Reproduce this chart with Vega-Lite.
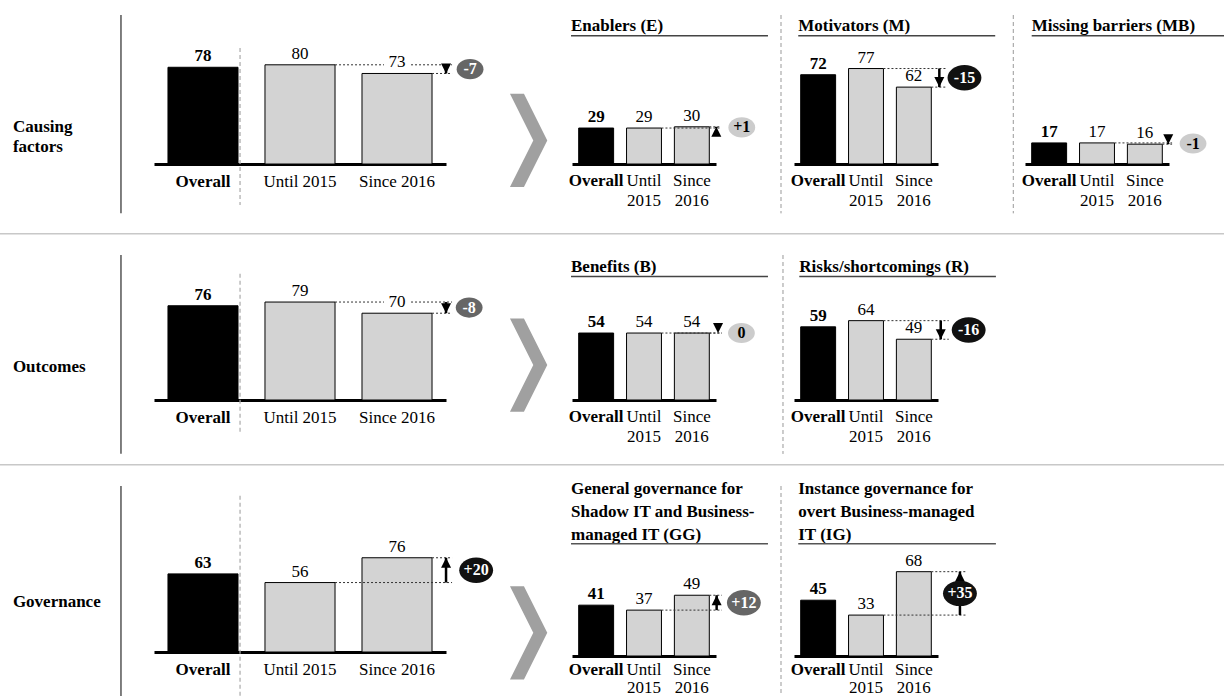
{
"$schema":"https://vega.github.io/schema/vega-lite/v6.json",
"padding":0,"background":"white","spacing":0,"bounds":"flush","align":"each","columns":8,
"config":{"font":"Liberation Serif","view":{"stroke":null},
"axisX":{"domainColor":"#000","domainWidth":3,"domainCap":"butt","ticks":false,"grid":false,"labelFont":"Liberation Serif","labelFontSize":17,"labelColor":"#000","labelAngle":0,"labelOverlap":false,"labelBaseline":"top"},
"text":{"fontSize":17,"color":"#000"}},
"datasets":{
"CF_bars":[{"period":"Overall","value":78},{"period":"Until 2015","value":80},{"period":"Since 2016","value":73}],
"CF_chg":[{"title":"Causing\nfactors","from":80,"to":73,"change":"-7","level":"medium"}],
"E_bars":[{"period":"Overall","value":29},{"period":"Until 2015","value":29},{"period":"Since 2016","value":30}],
"E_chg":[{"title":"Enablers (E)","from":29,"to":30,"change":"+1","level":"low"}],
"M_bars":[{"period":"Overall","value":72},{"period":"Until 2015","value":77},{"period":"Since 2016","value":62}],
"M_chg":[{"title":"Motivators (M)","from":77,"to":62,"change":"-15","level":"high"}],
"MB_bars":[{"period":"Overall","value":17},{"period":"Until 2015","value":17},{"period":"Since 2016","value":16}],
"MB_chg":[{"title":"Missing barriers (MB)","from":17,"to":16,"change":"-1","level":"low"}],
"OUT_bars":[{"period":"Overall","value":76},{"period":"Until 2015","value":79},{"period":"Since 2016","value":70}],
"OUT_chg":[{"title":"Outcomes","from":79,"to":70,"change":"-8","level":"medium"}],
"B_bars":[{"period":"Overall","value":54},{"period":"Until 2015","value":54},{"period":"Since 2016","value":54}],
"B_chg":[{"title":"Benefits (B)","from":54,"to":54,"change":"0","level":"low"}],
"R_bars":[{"period":"Overall","value":59},{"period":"Until 2015","value":64},{"period":"Since 2016","value":49}],
"R_chg":[{"title":"Risks/shortcomings (R)","from":64,"to":49,"change":"-16","level":"high"}],
"GOV_bars":[{"period":"Overall","value":63},{"period":"Until 2015","value":56},{"period":"Since 2016","value":76}],
"GOV_chg":[{"title":"Governance","from":56,"to":76,"change":"+20","level":"high"}],
"GG_bars":[{"period":"Overall","value":41},{"period":"Until 2015","value":37},{"period":"Since 2016","value":49}],
"GG_chg":[{"title":"General governance for\nShadow IT and Business-\nmanaged IT (GG)","from":37,"to":49,"change":"+12","level":"medium"}],
"IG_bars":[{"period":"Overall","value":45},{"period":"Until 2015","value":33},{"period":"Since 2016","value":68}],
"IG_chg":[{"title":"Instance governance for\novert Business-managed\nIT (IG)","from":33,"to":68,"change":"+35","level":"high"}]
},
"concat":[
{"width":1,"height":15,"mark":"point","data":{"values":[]}},
{"width":1,"height":1,"mark":"point","data":{"values":[]}},
{"width":1,"height":1,"mark":"point","data":{"values":[]}},
{"width":1,"height":1,"mark":"point","data":{"values":[]}},
{"width":1,"height":1,"mark":"point","data":{"values":[]}},
{"width":1,"height":1,"mark":"point","data":{"values":[]}},
{"width":1,"height":1,"mark":"point","data":{"values":[]}},
{"width":1,"height":1,"mark":"point","data":{"values":[]}},

{"width":1,"height":1,"mark":"point","data":{"values":[]}},
{"width":292,"height":149,"layer":[
{"data":{"name":"CF_bars"},"mark":{"type":"bar","stroke":"black","strokeWidth":1},"encoding":{"x":{"field":"period","type":"nominal","scale":{"type":"band","domain":["Overall","Until 2015","Since 2016"],"paddingInner":0.278,"paddingOuter":0.144},"axis":{"title":null,"labelPadding":9,"labelFontWeight":{"condition":{"test":"datum.value == 'Overall'","value":"bold"},"value":"normal"}}},"y":{"field":"value","type":"quantitative","scale":{"domain":[0,120.16],"nice":false},"axis":null},"fill":{"field":"period","type":"nominal","scale":{"domain":["Overall","Until 2015","Since 2016"],"range":["#000000","#d3d3d3","#d3d3d3"]},"legend":null}}},
{"data":{"name":"CF_bars"},"transform":[{"filter":"datum.period != 'Overall'"}],"mark":{"type":"rule","strokeDash":[2,2],"color":"#333","strokeWidth":1},"encoding":{"x":{"field":"period","type":"nominal","bandPosition":1},"x2":{"datum":"Since 2016","bandPosition":1.286},"y":{"field":"value","type":"quantitative","axis":null}}},
{"data":{"name":"CF_bars"},"transform":[{"filter":"datum.period == 'Since 2016'"}],"mark":{"type":"point","filled":true,"opacity":1,"color":"white","size":400,"shape":"M-1.3,-1.9L1.3,-1.9L1.3,-0.45L-1.3,-0.45Z"},"encoding":{"x":{"field":"period","type":"nominal"},"y":{"field":"value","type":"quantitative","axis":null}}},
{"data":{"name":"CF_bars"},"mark":{"type":"text","baseline":"alphabetic","dy":-6,"fontSize":17,"fontWeight":{"expr":"datum.period == 'Overall' ? 'bold' : 'normal'"}},"encoding":{"x":{"field":"period","type":"nominal"},"y":{"field":"value","type":"quantitative","axis":null},"text":{"field":"value","type":"quantitative"}}},
{"data":{"name":"CF_chg"},"encoding":{"x":{"datum":"Since 2016","bandPosition":1.2}},"layer":[
{"mark":{"type":"rule","color":"black","strokeWidth":2.5},"encoding":{"y":{"field":"from","type":"quantitative","axis":null},"y2":{"field":"to"}}},
{"mark":{"type":"point","filled":true,"color":"black","opacity":1,"size":100},"encoding":{"y":{"field":"to","type":"quantitative","axis":null},"shape":{"condition":{"test":"datum.to > datum.from","value":"M-1,2L1,2L0,0Z"},"value":"M-1,-2L1,-2L0,0Z"}}}]},
{"data":{"name":"CF_chg"},"transform":[{"calculate":"(datum.from + datum.to) / 2","as":"mid"}],"encoding":{"x":{"datum":"Since 2016","bandPosition":1.543},"y":{"field":"mid","type":"quantitative","axis":null}},"layer":[
{"mark":{"type":"point","filled":true,"opacity":1,"shape":"M-1,0C-1,-0.41,-0.55,-0.75,0,-0.75C0.55,-0.75,1,-0.41,1,0C1,0.41,0.55,0.75,0,0.75C-0.55,0.75,-1,0.41,-1,0Z"},"encoding":{"color":{"field":"level","type":"nominal","scale":{"domain":["high","medium","low"],"range":["#111111","#666666","#cccccc"]},"legend":null},"size":{"condition":{"test":"length(datum.change) > 2","value":1150},"value":720}}},
{"mark":{"type":"text","fontSize":16,"fontWeight":"bold","baseline":"middle"},"encoding":{"text":{"field":"change"},"color":{"condition":{"test":"datum.level == 'low'","value":"black"},"value":"white"}}}]},
{"data":{"name":"CF_chg"},"mark":{"type":"rule","color":"#aaaaaa","strokeDash":[4,3],"strokeWidth":1.2},"encoding":{"x":{"datum":"Overall","bandPosition":1.029},"y":{"datum":93.5,"axis":null},"y2":{"datum":-33}}},
{"data":{"name":"CF_chg"},"mark":{"type":"rule","color":"#555555","strokeWidth":1.5},"encoding":{"x":{"datum":"Overall","bandPosition":-0.671},"y":{"datum":120.16,"axis":null},"y2":{"datum":-39.8}}},
{"data":{"name":"CF_chg"},"mark":{"type":"text","align":"left","baseline":"middle","fontSize":17,"fontWeight":"bold","lineBreak":"\n","lineHeight":20},"encoding":{"x":{"datum":"Overall","bandPosition":-2.214},"y":{"datum":30.1,"axis":null},"text":{"field":"title"}}},
{"data":{"name":"CF_chg"},"mark":{"type":"point","filled":true,"opacity":1,"color":"#a0a0a0","size":8700,"shape":"M-0.4,-1L-0.1,-1L0.4,0L-0.1,1L-0.4,1L0.1,0Z"},"encoding":{"x":{"datum":"Since 2016","bandPosition":2.379},"y":{"datum":19,"axis":null}}}
]},
{"width":1,"height":1,"mark":"point","data":{"values":[]}},
{"width":144,"height":149,"layer":[
{"data":{"name":"E_bars"},"mark":{"type":"bar","stroke":"black","strokeWidth":1},"encoding":{"x":{"field":"period","type":"nominal","scale":{"type":"band","domain":["Overall","Until 2015","Since 2016"],"paddingInner":0.27,"paddingOuter":0.14},"axis":{"title":null,"labelPadding":8,"labelLineHeight":20,"labelExpr":"split(datum.label, ' ')","labelFontWeight":{"condition":{"test":"datum.value == 'Overall'","value":"bold"},"value":"normal"}}},"y":{"field":"value","type":"quantitative","scale":{"domain":[0,120.16],"nice":false},"axis":null},"fill":{"field":"period","type":"nominal","scale":{"domain":["Overall","Until 2015","Since 2016"],"range":["#000000","#d3d3d3","#d3d3d3"]},"legend":null}}},
{"data":{"name":"E_bars"},"mark":{"type":"text","baseline":"alphabetic","dy":-6,"fontSize":17,"fontWeight":{"expr":"datum.period == 'Overall' ? 'bold' : 'normal'"}},"encoding":{"x":{"field":"period","type":"nominal"},"y":{"field":"value","type":"quantitative","axis":null},"text":{"field":"value","type":"quantitative"}}},
{"data":{"name":"E_bars"},"transform":[{"filter":"datum.period != 'Overall'"}],"mark":{"type":"rule","strokeDash":[2,2],"color":"#333","strokeWidth":1},"encoding":{"x":{"field":"period","type":"nominal","bandPosition":1},"x2":{"datum":"Since 2016","bandPosition":1.31},"y":{"field":"value","type":"quantitative","axis":null}}},
{"data":{"name":"E_chg"},"encoding":{"x":{"datum":"Since 2016","bandPosition":1.2}},"layer":[
{"mark":{"type":"rule","color":"black","strokeWidth":2.5},"encoding":{"y":{"field":"from","type":"quantitative","axis":null},"y2":{"field":"to"}}},
{"mark":{"type":"point","filled":true,"color":"black","opacity":1,"size":100},"encoding":{"y":{"field":"to","type":"quantitative","axis":null},"shape":{"condition":{"test":"datum.to > datum.from","value":"M-1,2L1,2L0,0Z"},"value":"M-1,-2L1,-2L0,0Z"}}}]},
{"data":{"name":"E_chg"},"transform":[{"calculate":"(datum.from + datum.to) / 2","as":"mid"}],"encoding":{"x":{"datum":"Since 2016","bandPosition":1.93},"y":{"field":"mid","type":"quantitative","axis":null}},"layer":[
{"mark":{"type":"point","filled":true,"opacity":1,"shape":"M-1,0C-1,-0.41,-0.55,-0.75,0,-0.75C0.55,-0.75,1,-0.41,1,0C1,0.41,0.55,0.75,0,0.75C-0.55,0.75,-1,0.41,-1,0Z"},"encoding":{"color":{"field":"level","type":"nominal","scale":{"domain":["high","medium","low"],"range":["#111111","#666666","#cccccc"]},"legend":null},"size":{"condition":{"test":"length(datum.change) > 2","value":1150},"value":720}}},
{"mark":{"type":"text","fontSize":16,"fontWeight":"bold","baseline":"middle"},"encoding":{"text":{"field":"change"},"color":{"condition":{"test":"datum.level == 'low'","value":"black"},"value":"white"}}}]},
{"data":{"name":"E_chg"},"mark":{"type":"text","align":"left","baseline":"alphabetic","fontSize":17,"fontWeight":"bold","lineBreak":"\n","lineHeight":23.3},"encoding":{"x":{"datum":"Overall","bandPosition":-0.22},"y":{"datum":107.5,"axis":null},"text":{"field":"title"}}},
{"data":{"name":"E_chg"},"mark":{"type":"rule","color":"#444444","strokeWidth":1.5},"encoding":{"x":{"datum":"Overall","bandPosition":-0.22},"x2":{"datum":"Since 2016","bandPosition":2.68},"y":{"datum":103.5,"axis":null}}}
]},
{"width":1,"height":1,"mark":"point","data":{"values":[]}},
{"width":144,"height":149,"layer":[
{"data":{"name":"M_bars"},"mark":{"type":"bar","stroke":"black","strokeWidth":1},"encoding":{"x":{"field":"period","type":"nominal","scale":{"type":"band","domain":["Overall","Until 2015","Since 2016"],"paddingInner":0.27,"paddingOuter":0.14},"axis":{"title":null,"labelPadding":8,"labelLineHeight":20,"labelExpr":"split(datum.label, ' ')","labelFontWeight":{"condition":{"test":"datum.value == 'Overall'","value":"bold"},"value":"normal"}}},"y":{"field":"value","type":"quantitative","scale":{"domain":[0,120.16],"nice":false},"axis":null},"fill":{"field":"period","type":"nominal","scale":{"domain":["Overall","Until 2015","Since 2016"],"range":["#000000","#d3d3d3","#d3d3d3"]},"legend":null}}},
{"data":{"name":"M_bars"},"mark":{"type":"text","baseline":"alphabetic","dy":-6,"fontSize":17,"fontWeight":{"expr":"datum.period == 'Overall' ? 'bold' : 'normal'"}},"encoding":{"x":{"field":"period","type":"nominal"},"y":{"field":"value","type":"quantitative","axis":null},"text":{"field":"value","type":"quantitative"}}},
{"data":{"name":"M_bars"},"transform":[{"filter":"datum.period != 'Overall'"}],"mark":{"type":"rule","strokeDash":[2,2],"color":"#333","strokeWidth":1},"encoding":{"x":{"field":"period","type":"nominal","bandPosition":1},"x2":{"datum":"Since 2016","bandPosition":1.42},"y":{"field":"value","type":"quantitative","axis":null}}},
{"data":{"name":"M_chg"},"encoding":{"x":{"datum":"Since 2016","bandPosition":1.23}},"layer":[
{"mark":{"type":"rule","color":"black","strokeWidth":2.5},"encoding":{"y":{"field":"from","type":"quantitative","axis":null},"y2":{"field":"to"}}},
{"mark":{"type":"point","filled":true,"color":"black","opacity":1,"size":100},"encoding":{"y":{"field":"to","type":"quantitative","axis":null},"shape":{"condition":{"test":"datum.to > datum.from","value":"M-1,2L1,2L0,0Z"},"value":"M-1,-2L1,-2L0,0Z"}}}]},
{"data":{"name":"M_chg"},"transform":[{"calculate":"(datum.from + datum.to) / 2","as":"mid"}],"encoding":{"x":{"datum":"Since 2016","bandPosition":1.95},"y":{"field":"mid","type":"quantitative","axis":null}},"layer":[
{"mark":{"type":"point","filled":true,"opacity":1,"shape":"M-1,0C-1,-0.41,-0.55,-0.75,0,-0.75C0.55,-0.75,1,-0.41,1,0C1,0.41,0.55,0.75,0,0.75C-0.55,0.75,-1,0.41,-1,0Z"},"encoding":{"color":{"field":"level","type":"nominal","scale":{"domain":["high","medium","low"],"range":["#111111","#666666","#cccccc"]},"legend":null},"size":{"condition":{"test":"length(datum.change) > 2","value":1150},"value":720}}},
{"mark":{"type":"text","fontSize":16,"fontWeight":"bold","baseline":"middle"},"encoding":{"text":{"field":"change"},"color":{"condition":{"test":"datum.level == 'low'","value":"black"},"value":"white"}}}]},
{"data":{"name":"M_chg"},"mark":{"type":"text","align":"left","baseline":"alphabetic","fontSize":17,"fontWeight":"bold","lineBreak":"\n","lineHeight":23.3},"encoding":{"x":{"datum":"Overall","bandPosition":-0.07},"y":{"datum":107.5,"axis":null},"text":{"field":"title"}}},
{"data":{"name":"M_chg"},"mark":{"type":"rule","color":"#444444","strokeWidth":1.5},"encoding":{"x":{"datum":"Overall","bandPosition":-0.07},"x2":{"datum":"Since 2016","bandPosition":2.83},"y":{"datum":103.5,"axis":null}}},
{"data":{"name":"M_chg"},"mark":{"type":"rule","color":"#999999","strokeDash":[4,3],"strokeWidth":1},"encoding":{"x":{"datum":"Overall","bandPosition":-0.564},"y":{"datum":120.16,"axis":null},"y2":{"datum":-39.8}}}
]},
{"width":1,"height":1,"mark":"point","data":{"values":[]}},
{"width":144,"height":149,"layer":[
{"data":{"name":"MB_bars"},"mark":{"type":"bar","stroke":"black","strokeWidth":1},"encoding":{"x":{"field":"period","type":"nominal","scale":{"type":"band","domain":["Overall","Until 2015","Since 2016"],"paddingInner":0.27,"paddingOuter":0.14},"axis":{"title":null,"labelPadding":8,"labelLineHeight":20,"labelExpr":"split(datum.label, ' ')","labelFontWeight":{"condition":{"test":"datum.value == 'Overall'","value":"bold"},"value":"normal"}}},"y":{"field":"value","type":"quantitative","scale":{"domain":[0,120.16],"nice":false},"axis":null},"fill":{"field":"period","type":"nominal","scale":{"domain":["Overall","Until 2015","Since 2016"],"range":["#000000","#d3d3d3","#d3d3d3"]},"legend":null}}},
{"data":{"name":"MB_bars"},"mark":{"type":"text","baseline":"alphabetic","dy":-6,"fontSize":17,"fontWeight":{"expr":"datum.period == 'Overall' ? 'bold' : 'normal'"}},"encoding":{"x":{"field":"period","type":"nominal"},"y":{"field":"value","type":"quantitative","axis":null},"text":{"field":"value","type":"quantitative"}}},
{"data":{"name":"MB_bars"},"transform":[{"filter":"datum.period != 'Overall'"}],"mark":{"type":"rule","strokeDash":[2,2],"color":"#333","strokeWidth":1},"encoding":{"x":{"field":"period","type":"nominal","bandPosition":1},"x2":{"datum":"Since 2016","bandPosition":1.28},"y":{"field":"value","type":"quantitative","axis":null}}},
{"data":{"name":"MB_chg"},"encoding":{"x":{"datum":"Since 2016","bandPosition":1.17}},"layer":[
{"mark":{"type":"rule","color":"black","strokeWidth":2.5},"encoding":{"y":{"field":"from","type":"quantitative","axis":null},"y2":{"field":"to"}}},
{"mark":{"type":"point","filled":true,"color":"black","opacity":1,"size":100},"encoding":{"y":{"field":"to","type":"quantitative","axis":null},"shape":{"condition":{"test":"datum.to > datum.from","value":"M-1,2L1,2L0,0Z"},"value":"M-1,-2L1,-2L0,0Z"}}}]},
{"data":{"name":"MB_chg"},"transform":[{"calculate":"(datum.from + datum.to) / 2","as":"mid"}],"encoding":{"x":{"datum":"Since 2016","bandPosition":1.88},"y":{"field":"mid","type":"quantitative","axis":null}},"layer":[
{"mark":{"type":"point","filled":true,"opacity":1,"shape":"M-1,0C-1,-0.41,-0.55,-0.75,0,-0.75C0.55,-0.75,1,-0.41,1,0C1,0.41,0.55,0.75,0,0.75C-0.55,0.75,-1,0.41,-1,0Z"},"encoding":{"color":{"field":"level","type":"nominal","scale":{"domain":["high","medium","low"],"range":["#111111","#666666","#cccccc"]},"legend":null},"size":{"condition":{"test":"length(datum.change) > 2","value":1150},"value":720}}},
{"mark":{"type":"text","fontSize":16,"fontWeight":"bold","baseline":"middle"},"encoding":{"text":{"field":"change"},"color":{"condition":{"test":"datum.level == 'low'","value":"black"},"value":"white"}}}]},
{"data":{"name":"MB_chg"},"mark":{"type":"text","align":"left","baseline":"alphabetic","fontSize":17,"fontWeight":"bold","lineBreak":"\n","lineHeight":23.3},"encoding":{"x":{"datum":"Overall","bandPosition":0},"y":{"datum":107.5,"axis":null},"text":{"field":"title"}}},
{"data":{"name":"MB_chg"},"mark":{"type":"rule","color":"#444444","strokeWidth":1.5},"encoding":{"x":{"datum":"Overall","bandPosition":0},"x2":{"datum":"Since 2016","bandPosition":2.77},"y":{"datum":103.5,"axis":null}}},
{"data":{"name":"MB_chg"},"mark":{"type":"rule","color":"#999999","strokeDash":[4,3],"strokeWidth":1},"encoding":{"x":{"datum":"Overall","bandPosition":-0.527},"y":{"datum":120.16,"axis":null},"y2":{"datum":-39.8}}}
]},

{"width":1,"height":68.25,"mark":"point","data":{"values":[]}},
{"width":1,"height":1,"mark":"point","data":{"values":[]}},
{"width":1,"height":1,"mark":"point","data":{"values":[]}},
{"width":1,"height":1,"mark":"point","data":{"values":[]}},
{"width":1,"height":1,"mark":"point","data":{"values":[]}},
{"width":1,"height":1,"mark":"point","data":{"values":[]}},
{"width":1,"height":1,"mark":"point","data":{"values":[]}},
{"width":1,"height":1,"mark":"point","data":{"values":[]}},

{"width":154,"height":1.5,"mark":"point","data":{"values":[]},"view":{"fill":"#c8c8c8","stroke":null}},
{"width":292,"height":1.5,"mark":"point","data":{"values":[]},"view":{"fill":"#c8c8c8","stroke":null}},
{"width":126,"height":1.5,"mark":"point","data":{"values":[]},"view":{"fill":"#c8c8c8","stroke":null}},
{"width":144,"height":1.5,"mark":"point","data":{"values":[]},"view":{"fill":"#c8c8c8","stroke":null}},
{"width":78,"height":1.5,"mark":"point","data":{"values":[]},"view":{"fill":"#c8c8c8","stroke":null}},
{"width":144,"height":1.5,"mark":"point","data":{"values":[]},"view":{"fill":"#c8c8c8","stroke":null}},
{"width":87,"height":1.5,"mark":"point","data":{"values":[]},"view":{"fill":"#c8c8c8","stroke":null}},
{"width":199,"height":1.5,"mark":"point","data":{"values":[]},"view":{"fill":"#c8c8c8","stroke":null}},

{"width":1,"height":19.25,"mark":"point","data":{"values":[]}},
{"width":1,"height":1,"mark":"point","data":{"values":[]}},
{"width":1,"height":1,"mark":"point","data":{"values":[]}},
{"width":1,"height":1,"mark":"point","data":{"values":[]}},
{"width":1,"height":1,"mark":"point","data":{"values":[]}},
{"width":1,"height":1,"mark":"point","data":{"values":[]}},
{"width":1,"height":1,"mark":"point","data":{"values":[]}},
{"width":1,"height":1,"mark":"point","data":{"values":[]}},

{"width":1,"height":1,"mark":"point","data":{"values":[]}},
{"width":292,"height":145,"layer":[
{"data":{"name":"OUT_bars"},"mark":{"type":"bar","stroke":"black","strokeWidth":1},"encoding":{"x":{"field":"period","type":"nominal","scale":{"type":"band","domain":["Overall","Until 2015","Since 2016"],"paddingInner":0.278,"paddingOuter":0.144},"axis":{"title":null,"labelPadding":9,"labelFontWeight":{"condition":{"test":"datum.value == 'Overall'","value":"bold"},"value":"normal"}}},"y":{"field":"value","type":"quantitative","scale":{"domain":[0,116.94],"nice":false},"axis":null},"fill":{"field":"period","type":"nominal","scale":{"domain":["Overall","Until 2015","Since 2016"],"range":["#000000","#d3d3d3","#d3d3d3"]},"legend":null}}},
{"data":{"name":"OUT_bars"},"transform":[{"filter":"datum.period != 'Overall'"}],"mark":{"type":"rule","strokeDash":[2,2],"color":"#333","strokeWidth":1},"encoding":{"x":{"field":"period","type":"nominal","bandPosition":1},"x2":{"datum":"Since 2016","bandPosition":1.286},"y":{"field":"value","type":"quantitative","axis":null}}},
{"data":{"name":"OUT_bars"},"transform":[{"filter":"datum.period == 'Since 2016'"}],"mark":{"type":"point","filled":true,"opacity":1,"color":"white","size":400,"shape":"M-1.3,-1.9L1.3,-1.9L1.3,-0.45L-1.3,-0.45Z"},"encoding":{"x":{"field":"period","type":"nominal"},"y":{"field":"value","type":"quantitative","axis":null}}},
{"data":{"name":"OUT_bars"},"mark":{"type":"text","baseline":"alphabetic","dy":-6,"fontSize":17,"fontWeight":{"expr":"datum.period == 'Overall' ? 'bold' : 'normal'"}},"encoding":{"x":{"field":"period","type":"nominal"},"y":{"field":"value","type":"quantitative","axis":null},"text":{"field":"value","type":"quantitative"}}},
{"data":{"name":"OUT_chg"},"encoding":{"x":{"datum":"Since 2016","bandPosition":1.2}},"layer":[
{"mark":{"type":"rule","color":"black","strokeWidth":2.5},"encoding":{"y":{"field":"from","type":"quantitative","axis":null},"y2":{"field":"to"}}},
{"mark":{"type":"point","filled":true,"color":"black","opacity":1,"size":100},"encoding":{"y":{"field":"to","type":"quantitative","axis":null},"shape":{"condition":{"test":"datum.to > datum.from","value":"M-1,2L1,2L0,0Z"},"value":"M-1,-2L1,-2L0,0Z"}}}]},
{"data":{"name":"OUT_chg"},"transform":[{"calculate":"(datum.from + datum.to) / 2","as":"mid"}],"encoding":{"x":{"datum":"Since 2016","bandPosition":1.53},"y":{"field":"mid","type":"quantitative","axis":null}},"layer":[
{"mark":{"type":"point","filled":true,"opacity":1,"shape":"M-1,0C-1,-0.41,-0.55,-0.75,0,-0.75C0.55,-0.75,1,-0.41,1,0C1,0.41,0.55,0.75,0,0.75C-0.55,0.75,-1,0.41,-1,0Z"},"encoding":{"color":{"field":"level","type":"nominal","scale":{"domain":["high","medium","low"],"range":["#111111","#666666","#cccccc"]},"legend":null},"size":{"condition":{"test":"length(datum.change) > 2","value":1150},"value":720}}},
{"mark":{"type":"text","fontSize":16,"fontWeight":"bold","baseline":"middle"},"encoding":{"text":{"field":"change"},"color":{"condition":{"test":"datum.level == 'low'","value":"black"},"value":"white"}}}]},
{"data":{"name":"OUT_chg"},"mark":{"type":"rule","color":"#aaaaaa","strokeDash":[4,3],"strokeWidth":1.2},"encoding":{"x":{"datum":"Overall","bandPosition":1.029},"y":{"datum":101.9,"axis":null},"y2":{"datum":-25.8}}},
{"data":{"name":"OUT_chg"},"mark":{"type":"rule","color":"#555555","strokeWidth":1.5},"encoding":{"x":{"datum":"Overall","bandPosition":-0.671},"y":{"datum":116.94,"axis":null},"y2":{"datum":-43.3}}},
{"data":{"name":"OUT_chg"},"mark":{"type":"text","align":"left","baseline":"middle","fontSize":17,"fontWeight":"bold","lineBreak":"\n","lineHeight":20},"encoding":{"x":{"datum":"Overall","bandPosition":-2.214},"y":{"datum":26.6,"axis":null},"text":{"field":"title"}}},
{"data":{"name":"OUT_chg"},"mark":{"type":"point","filled":true,"opacity":1,"color":"#a0a0a0","size":8700,"shape":"M-0.4,-1L-0.1,-1L0.4,0L-0.1,1L-0.4,1L0.1,0Z"},"encoding":{"x":{"datum":"Since 2016","bandPosition":2.379},"y":{"datum":28.2,"axis":null}}}
]},
{"width":1,"height":1,"mark":"point","data":{"values":[]}},
{"width":144,"height":145,"layer":[
{"data":{"name":"B_bars"},"mark":{"type":"bar","stroke":"black","strokeWidth":1},"encoding":{"x":{"field":"period","type":"nominal","scale":{"type":"band","domain":["Overall","Until 2015","Since 2016"],"paddingInner":0.27,"paddingOuter":0.14},"axis":{"title":null,"labelPadding":8,"labelLineHeight":20,"labelExpr":"split(datum.label, ' ')","labelFontWeight":{"condition":{"test":"datum.value == 'Overall'","value":"bold"},"value":"normal"}}},"y":{"field":"value","type":"quantitative","scale":{"domain":[0,116.94],"nice":false},"axis":null},"fill":{"field":"period","type":"nominal","scale":{"domain":["Overall","Until 2015","Since 2016"],"range":["#000000","#d3d3d3","#d3d3d3"]},"legend":null}}},
{"data":{"name":"B_bars"},"mark":{"type":"text","baseline":"alphabetic","dy":-6,"fontSize":17,"fontWeight":{"expr":"datum.period == 'Overall' ? 'bold' : 'normal'"}},"encoding":{"x":{"field":"period","type":"nominal"},"y":{"field":"value","type":"quantitative","axis":null},"text":{"field":"value","type":"quantitative"}}},
{"data":{"name":"B_bars"},"transform":[{"filter":"datum.period != 'Overall'"}],"mark":{"type":"rule","strokeDash":[2,2],"color":"#333","strokeWidth":1},"encoding":{"x":{"field":"period","type":"nominal","bandPosition":1},"x2":{"datum":"Since 2016","bandPosition":1.36},"y":{"field":"value","type":"quantitative","axis":null}}},
{"data":{"name":"B_chg"},"encoding":{"x":{"datum":"Since 2016","bandPosition":1.25}},"layer":[
{"mark":{"type":"rule","color":"black","strokeWidth":2.5},"encoding":{"y":{"field":"from","type":"quantitative","axis":null},"y2":{"field":"to"}}},
{"mark":{"type":"point","filled":true,"color":"black","opacity":1,"size":100},"encoding":{"y":{"field":"to","type":"quantitative","axis":null},"shape":{"condition":{"test":"datum.to > datum.from","value":"M-1,2L1,2L0,0Z"},"value":"M-1,-2L1,-2L0,0Z"}}}]},
{"data":{"name":"B_chg"},"transform":[{"calculate":"(datum.from + datum.to) / 2","as":"mid"}],"encoding":{"x":{"datum":"Since 2016","bandPosition":1.92},"y":{"field":"mid","type":"quantitative","axis":null}},"layer":[
{"mark":{"type":"point","filled":true,"opacity":1,"shape":"M-1,0C-1,-0.41,-0.55,-0.75,0,-0.75C0.55,-0.75,1,-0.41,1,0C1,0.41,0.55,0.75,0,0.75C-0.55,0.75,-1,0.41,-1,0Z"},"encoding":{"color":{"field":"level","type":"nominal","scale":{"domain":["high","medium","low"],"range":["#111111","#666666","#cccccc"]},"legend":null},"size":{"condition":{"test":"length(datum.change) > 2","value":1150},"value":720}}},
{"mark":{"type":"text","fontSize":16,"fontWeight":"bold","baseline":"middle"},"encoding":{"text":{"field":"change"},"color":{"condition":{"test":"datum.level == 'low'","value":"black"},"value":"white"}}}]},
{"data":{"name":"B_chg"},"mark":{"type":"text","align":"left","baseline":"alphabetic","fontSize":17,"fontWeight":"bold","lineBreak":"\n","lineHeight":23.3},"encoding":{"x":{"datum":"Overall","bandPosition":-0.22},"y":{"datum":103.4,"axis":null},"text":{"field":"title"}}},
{"data":{"name":"B_chg"},"mark":{"type":"rule","color":"#444444","strokeWidth":1.5},"encoding":{"x":{"datum":"Overall","bandPosition":-0.22},"x2":{"datum":"Since 2016","bandPosition":2.68},"y":{"datum":99.5,"axis":null}}}
]},
{"width":1,"height":1,"mark":"point","data":{"values":[]}},
{"width":144,"height":145,"layer":[
{"data":{"name":"R_bars"},"mark":{"type":"bar","stroke":"black","strokeWidth":1},"encoding":{"x":{"field":"period","type":"nominal","scale":{"type":"band","domain":["Overall","Until 2015","Since 2016"],"paddingInner":0.27,"paddingOuter":0.14},"axis":{"title":null,"labelPadding":8,"labelLineHeight":20,"labelExpr":"split(datum.label, ' ')","labelFontWeight":{"condition":{"test":"datum.value == 'Overall'","value":"bold"},"value":"normal"}}},"y":{"field":"value","type":"quantitative","scale":{"domain":[0,116.94],"nice":false},"axis":null},"fill":{"field":"period","type":"nominal","scale":{"domain":["Overall","Until 2015","Since 2016"],"range":["#000000","#d3d3d3","#d3d3d3"]},"legend":null}}},
{"data":{"name":"R_bars"},"mark":{"type":"text","baseline":"alphabetic","dy":-6,"fontSize":17,"fontWeight":{"expr":"datum.period == 'Overall' ? 'bold' : 'normal'"}},"encoding":{"x":{"field":"period","type":"nominal"},"y":{"field":"value","type":"quantitative","axis":null},"text":{"field":"value","type":"quantitative"}}},
{"data":{"name":"R_bars"},"transform":[{"filter":"datum.period != 'Overall'"}],"mark":{"type":"rule","strokeDash":[2,2],"color":"#333","strokeWidth":1},"encoding":{"x":{"field":"period","type":"nominal","bandPosition":1},"x2":{"datum":"Since 2016","bandPosition":1.5},"y":{"field":"value","type":"quantitative","axis":null}}},
{"data":{"name":"R_chg"},"encoding":{"x":{"datum":"Since 2016","bandPosition":1.27}},"layer":[
{"mark":{"type":"rule","color":"black","strokeWidth":2.5},"encoding":{"y":{"field":"from","type":"quantitative","axis":null},"y2":{"field":"to"}}},
{"mark":{"type":"point","filled":true,"color":"black","opacity":1,"size":100},"encoding":{"y":{"field":"to","type":"quantitative","axis":null},"shape":{"condition":{"test":"datum.to > datum.from","value":"M-1,2L1,2L0,0Z"},"value":"M-1,-2L1,-2L0,0Z"}}}]},
{"data":{"name":"R_chg"},"transform":[{"calculate":"(datum.from + datum.to) / 2","as":"mid"}],"encoding":{"x":{"datum":"Since 2016","bandPosition":2.07},"y":{"field":"mid","type":"quantitative","axis":null}},"layer":[
{"mark":{"type":"point","filled":true,"opacity":1,"shape":"M-1,0C-1,-0.41,-0.55,-0.75,0,-0.75C0.55,-0.75,1,-0.41,1,0C1,0.41,0.55,0.75,0,0.75C-0.55,0.75,-1,0.41,-1,0Z"},"encoding":{"color":{"field":"level","type":"nominal","scale":{"domain":["high","medium","low"],"range":["#111111","#666666","#cccccc"]},"legend":null},"size":{"condition":{"test":"length(datum.change) > 2","value":1150},"value":720}}},
{"mark":{"type":"text","fontSize":16,"fontWeight":"bold","baseline":"middle"},"encoding":{"text":{"field":"change"},"color":{"condition":{"test":"datum.level == 'low'","value":"black"},"value":"white"}}}]},
{"data":{"name":"R_chg"},"mark":{"type":"text","align":"left","baseline":"alphabetic","fontSize":17,"fontWeight":"bold","lineBreak":"\n","lineHeight":23.3},"encoding":{"x":{"datum":"Overall","bandPosition":-0.04},"y":{"datum":103.4,"axis":null},"text":{"field":"title"}}},
{"data":{"name":"R_chg"},"mark":{"type":"rule","color":"#444444","strokeWidth":1.5},"encoding":{"x":{"datum":"Overall","bandPosition":-0.04},"x2":{"datum":"Since 2016","bandPosition":2.85},"y":{"datum":99.5,"axis":null}}},
{"data":{"name":"R_chg"},"mark":{"type":"rule","color":"#999999","strokeDash":[4,3],"strokeWidth":1},"encoding":{"x":{"datum":"Overall","bandPosition":-0.507},"y":{"datum":116.94,"axis":null},"y2":{"datum":-43.5}}}
]},
{"width":1,"height":1,"mark":"point","data":{"values":[]}},
{"width":1,"height":1,"mark":"point","data":{"values":[]}},

{"width":1,"height":63.25,"mark":"point","data":{"values":[]}},
{"width":1,"height":1,"mark":"point","data":{"values":[]}},
{"width":1,"height":1,"mark":"point","data":{"values":[]}},
{"width":1,"height":1,"mark":"point","data":{"values":[]}},
{"width":1,"height":1,"mark":"point","data":{"values":[]}},
{"width":1,"height":1,"mark":"point","data":{"values":[]}},
{"width":1,"height":1,"mark":"point","data":{"values":[]}},
{"width":1,"height":1,"mark":"point","data":{"values":[]}},

{"width":154,"height":1.5,"mark":"point","data":{"values":[]},"view":{"fill":"#c8c8c8","stroke":null}},
{"width":292,"height":1.5,"mark":"point","data":{"values":[]},"view":{"fill":"#c8c8c8","stroke":null}},
{"width":126,"height":1.5,"mark":"point","data":{"values":[]},"view":{"fill":"#c8c8c8","stroke":null}},
{"width":144,"height":1.5,"mark":"point","data":{"values":[]},"view":{"fill":"#c8c8c8","stroke":null}},
{"width":78,"height":1.5,"mark":"point","data":{"values":[]},"view":{"fill":"#c8c8c8","stroke":null}},
{"width":144,"height":1.5,"mark":"point","data":{"values":[]},"view":{"fill":"#c8c8c8","stroke":null}},
{"width":87,"height":1.5,"mark":"point","data":{"values":[]},"view":{"fill":"#c8c8c8","stroke":null}},
{"width":199,"height":1.5,"mark":"point","data":{"values":[]},"view":{"fill":"#c8c8c8","stroke":null}},

{"width":1,"height":19.25,"mark":"point","data":{"values":[]}},
{"width":1,"height":1,"mark":"point","data":{"values":[]}},
{"width":1,"height":1,"mark":"point","data":{"values":[]}},
{"width":1,"height":1,"mark":"point","data":{"values":[]}},
{"width":1,"height":1,"mark":"point","data":{"values":[]}},
{"width":1,"height":1,"mark":"point","data":{"values":[]}},
{"width":1,"height":1,"mark":"point","data":{"values":[]}},
{"width":1,"height":1,"mark":"point","data":{"values":[]}},

{"width":1,"height":1,"mark":"point","data":{"values":[]}},
{"width":292,"height":166,"layer":[
{"data":{"name":"GOV_bars"},"mark":{"type":"bar","stroke":"black","strokeWidth":1},"encoding":{"x":{"field":"period","type":"nominal","scale":{"type":"band","domain":["Overall","Until 2015","Since 2016"],"paddingInner":0.278,"paddingOuter":0.144},"axis":{"title":null,"labelPadding":9,"labelFontWeight":{"condition":{"test":"datum.value == 'Overall'","value":"bold"},"value":"normal"}}},"y":{"field":"value","type":"quantitative","scale":{"domain":[0,133.87],"nice":false},"axis":null},"fill":{"field":"period","type":"nominal","scale":{"domain":["Overall","Until 2015","Since 2016"],"range":["#000000","#d3d3d3","#d3d3d3"]},"legend":null}}},
{"data":{"name":"GOV_bars"},"mark":{"type":"text","baseline":"alphabetic","dy":-6,"fontSize":17,"fontWeight":{"expr":"datum.period == 'Overall' ? 'bold' : 'normal'"}},"encoding":{"x":{"field":"period","type":"nominal"},"y":{"field":"value","type":"quantitative","axis":null},"text":{"field":"value","type":"quantitative"}}},
{"data":{"name":"GOV_bars"},"transform":[{"filter":"datum.period != 'Overall'"}],"mark":{"type":"rule","strokeDash":[2,2],"color":"#333","strokeWidth":1},"encoding":{"x":{"field":"period","type":"nominal","bandPosition":1},"x2":{"datum":"Since 2016","bandPosition":1.286},"y":{"field":"value","type":"quantitative","axis":null}}},
{"data":{"name":"GOV_chg"},"encoding":{"x":{"datum":"Since 2016","bandPosition":1.2}},"layer":[
{"mark":{"type":"rule","color":"black","strokeWidth":2.5},"encoding":{"y":{"field":"from","type":"quantitative","axis":null},"y2":{"field":"to"}}},
{"mark":{"type":"point","filled":true,"color":"black","opacity":1,"size":100},"encoding":{"y":{"field":"to","type":"quantitative","axis":null},"shape":{"condition":{"test":"datum.to > datum.from","value":"M-1,2L1,2L0,0Z"},"value":"M-1,-2L1,-2L0,0Z"}}}]},
{"data":{"name":"GOV_chg"},"transform":[{"calculate":"(datum.from + datum.to) / 2","as":"mid"}],"encoding":{"x":{"datum":"Since 2016","bandPosition":1.63},"y":{"field":"mid","type":"quantitative","axis":null}},"layer":[
{"mark":{"type":"point","filled":true,"opacity":1,"shape":"M-1,0C-1,-0.41,-0.55,-0.75,0,-0.75C0.55,-0.75,1,-0.41,1,0C1,0.41,0.55,0.75,0,0.75C-0.55,0.75,-1,0.41,-1,0Z"},"encoding":{"color":{"field":"level","type":"nominal","scale":{"domain":["high","medium","low"],"range":["#111111","#666666","#cccccc"]},"legend":null},"size":{"condition":{"test":"length(datum.change) > 2","value":1150},"value":720}}},
{"mark":{"type":"text","fontSize":16,"fontWeight":"bold","baseline":"middle"},"encoding":{"text":{"field":"change"},"color":{"condition":{"test":"datum.level == 'low'","value":"black"},"value":"white"}}}]},
{"data":{"name":"GOV_chg"},"mark":{"type":"rule","color":"#aaaaaa","strokeDash":[4,3],"strokeWidth":1.2},"encoding":{"x":{"datum":"Overall","bandPosition":1.029},"y":{"datum":126,"axis":null},"y2":{"datum":-40}}},
{"data":{"name":"GOV_chg"},"mark":{"type":"rule","color":"#555555","strokeWidth":1.5},"encoding":{"x":{"datum":"Overall","bandPosition":-0.671},"y":{"datum":133.87,"axis":null},"y2":{"datum":-42}}},
{"data":{"name":"GOV_chg"},"mark":{"type":"text","align":"left","baseline":"middle","fontSize":17,"fontWeight":"bold","lineBreak":"\n","lineHeight":20},"encoding":{"x":{"datum":"Overall","bandPosition":-2.214},"y":{"datum":40.1,"axis":null},"text":{"field":"title"}}},
{"data":{"name":"GOV_chg"},"mark":{"type":"point","filled":true,"opacity":1,"color":"#a0a0a0","size":8700,"shape":"M-0.4,-1L-0.1,-1L0.4,0L-0.1,1L-0.4,1L0.1,0Z"},"encoding":{"x":{"datum":"Since 2016","bandPosition":2.379},"y":{"datum":15.5,"axis":null}}}
]},
{"width":1,"height":1,"mark":"point","data":{"values":[]}},
{"width":144,"height":170,"layer":[
{"data":{"name":"GG_bars"},"mark":{"type":"bar","stroke":"black","strokeWidth":1},"encoding":{"x":{"field":"period","type":"nominal","scale":{"type":"band","domain":["Overall","Until 2015","Since 2016"],"paddingInner":0.27,"paddingOuter":0.14},"axis":{"title":null,"labelPadding":5,"labelLineHeight":18,"labelExpr":"split(datum.label, ' ')","labelFontWeight":{"condition":{"test":"datum.value == 'Overall'","value":"bold"},"value":"normal"}}},"y":{"field":"value","type":"quantitative","scale":{"domain":[0,137.1],"nice":false},"axis":null},"fill":{"field":"period","type":"nominal","scale":{"domain":["Overall","Until 2015","Since 2016"],"range":["#000000","#d3d3d3","#d3d3d3"]},"legend":null}}},
{"data":{"name":"GG_bars"},"mark":{"type":"text","baseline":"alphabetic","dy":-6,"fontSize":17,"fontWeight":{"expr":"datum.period == 'Overall' ? 'bold' : 'normal'"}},"encoding":{"x":{"field":"period","type":"nominal"},"y":{"field":"value","type":"quantitative","axis":null},"text":{"field":"value","type":"quantitative"}}},
{"data":{"name":"GG_bars"},"transform":[{"filter":"datum.period != 'Overall'"}],"mark":{"type":"rule","strokeDash":[2,2],"color":"#333","strokeWidth":1},"encoding":{"x":{"field":"period","type":"nominal","bandPosition":1},"x2":{"datum":"Since 2016","bandPosition":1.36},"y":{"field":"value","type":"quantitative","axis":null}}},
{"data":{"name":"GG_chg"},"encoding":{"x":{"datum":"Since 2016","bandPosition":1.21}},"layer":[
{"mark":{"type":"rule","color":"black","strokeWidth":2.5},"encoding":{"y":{"field":"from","type":"quantitative","axis":null},"y2":{"field":"to"}}},
{"mark":{"type":"point","filled":true,"color":"black","opacity":1,"size":100},"encoding":{"y":{"field":"to","type":"quantitative","axis":null},"shape":{"condition":{"test":"datum.to > datum.from","value":"M-1,2L1,2L0,0Z"},"value":"M-1,-2L1,-2L0,0Z"}}}]},
{"data":{"name":"GG_chg"},"transform":[{"calculate":"(datum.from + datum.to) / 2","as":"mid"}],"encoding":{"x":{"datum":"Since 2016","bandPosition":1.99},"y":{"field":"mid","type":"quantitative","axis":null}},"layer":[
{"mark":{"type":"point","filled":true,"opacity":1,"shape":"M-1,0C-1,-0.41,-0.55,-0.75,0,-0.75C0.55,-0.75,1,-0.41,1,0C1,0.41,0.55,0.75,0,0.75C-0.55,0.75,-1,0.41,-1,0Z"},"encoding":{"color":{"field":"level","type":"nominal","scale":{"domain":["high","medium","low"],"range":["#111111","#666666","#cccccc"]},"legend":null},"size":{"condition":{"test":"length(datum.change) > 2","value":1150},"value":720}}},
{"mark":{"type":"text","fontSize":16,"fontWeight":"bold","baseline":"middle"},"encoding":{"text":{"field":"change"},"color":{"condition":{"test":"datum.level == 'low'","value":"black"},"value":"white"}}}]},
{"data":{"name":"GG_chg"},"mark":{"type":"text","align":"left","baseline":"alphabetic","fontSize":17,"fontWeight":"bold","lineBreak":"\n","lineHeight":23.3},"encoding":{"x":{"datum":"Overall","bandPosition":-0.22},"y":{"datum":130.9,"axis":null},"text":{"field":"title"}}},
{"data":{"name":"GG_chg"},"mark":{"type":"rule","color":"#555555","strokeWidth":1.5},"encoding":{"x":{"datum":"Overall","bandPosition":-0.22},"x2":{"datum":"Since 2016","bandPosition":2.68},"y":{"datum":90.6,"axis":null}}}
]},
{"width":1,"height":1,"mark":"point","data":{"values":[]}},
{"width":144,"height":170,"layer":[
{"data":{"name":"IG_bars"},"mark":{"type":"bar","stroke":"black","strokeWidth":1},"encoding":{"x":{"field":"period","type":"nominal","scale":{"type":"band","domain":["Overall","Until 2015","Since 2016"],"paddingInner":0.27,"paddingOuter":0.14},"axis":{"title":null,"labelPadding":5,"labelLineHeight":18,"labelExpr":"split(datum.label, ' ')","labelFontWeight":{"condition":{"test":"datum.value == 'Overall'","value":"bold"},"value":"normal"}}},"y":{"field":"value","type":"quantitative","scale":{"domain":[0,137.1],"nice":false},"axis":null},"fill":{"field":"period","type":"nominal","scale":{"domain":["Overall","Until 2015","Since 2016"],"range":["#000000","#d3d3d3","#d3d3d3"]},"legend":null}}},
{"data":{"name":"IG_bars"},"mark":{"type":"text","baseline":"alphabetic","dy":-6,"fontSize":17,"fontWeight":{"expr":"datum.period == 'Overall' ? 'bold' : 'normal'"}},"encoding":{"x":{"field":"period","type":"nominal"},"y":{"field":"value","type":"quantitative","axis":null},"text":{"field":"value","type":"quantitative"}}},
{"data":{"name":"IG_bars"},"transform":[{"filter":"datum.period != 'Overall'"}],"mark":{"type":"rule","strokeDash":[2,2],"color":"#333","strokeWidth":1},"encoding":{"x":{"field":"period","type":"nominal","bandPosition":1},"x2":{"datum":"Since 2016","bandPosition":1.99},"y":{"field":"value","type":"quantitative","axis":null}}},
{"data":{"name":"IG_chg"},"encoding":{"x":{"datum":"Since 2016","bandPosition":1.82}},"layer":[
{"mark":{"type":"rule","color":"black","strokeWidth":2.5},"encoding":{"y":{"field":"from","type":"quantitative","axis":null},"y2":{"field":"to"}}},
{"mark":{"type":"point","filled":true,"color":"black","opacity":1,"size":100},"encoding":{"y":{"field":"to","type":"quantitative","axis":null},"shape":{"condition":{"test":"datum.to > datum.from","value":"M-1,2L1,2L0,0Z"},"value":"M-1,-2L1,-2L0,0Z"}}}]},
{"data":{"name":"IG_chg"},"transform":[{"calculate":"(datum.from + datum.to) / 2","as":"mid"}],"encoding":{"x":{"datum":"Since 2016","bandPosition":1.82},"y":{"field":"mid","type":"quantitative","axis":null}},"layer":[
{"mark":{"type":"point","filled":true,"opacity":1,"shape":"M-1,0C-1,-0.41,-0.55,-0.75,0,-0.75C0.55,-0.75,1,-0.41,1,0C1,0.41,0.55,0.75,0,0.75C-0.55,0.75,-1,0.41,-1,0Z"},"encoding":{"color":{"field":"level","type":"nominal","scale":{"domain":["high","medium","low"],"range":["#111111","#666666","#cccccc"]},"legend":null},"size":{"condition":{"test":"length(datum.change) > 2","value":1150},"value":720}}},
{"mark":{"type":"text","fontSize":16,"fontWeight":"bold","baseline":"middle"},"encoding":{"text":{"field":"change"},"color":{"condition":{"test":"datum.level == 'low'","value":"black"},"value":"white"}}}]},
{"data":{"name":"IG_chg"},"mark":{"type":"text","align":"left","baseline":"alphabetic","fontSize":17,"fontWeight":"bold","lineBreak":"\n","lineHeight":23.3},"encoding":{"x":{"datum":"Overall","bandPosition":-0.07},"y":{"datum":130.9,"axis":null},"text":{"field":"title"}}},
{"data":{"name":"IG_chg"},"mark":{"type":"rule","color":"#555555","strokeWidth":1.5},"encoding":{"x":{"datum":"Overall","bandPosition":-0.07},"x2":{"datum":"Since 2016","bandPosition":2.85},"y":{"datum":90.6,"axis":null}}},
{"data":{"name":"IG_chg"},"mark":{"type":"rule","color":"#999999","strokeDash":[4,3],"strokeWidth":1},"encoding":{"x":{"datum":"Overall","bandPosition":-0.564},"y":{"datum":137.1,"axis":null},"y2":{"datum":-38.7}}}
]},
{"width":1,"height":1,"mark":"point","data":{"values":[]}},
{"width":1,"height":1,"mark":"point","data":{"values":[]}}
]
}
